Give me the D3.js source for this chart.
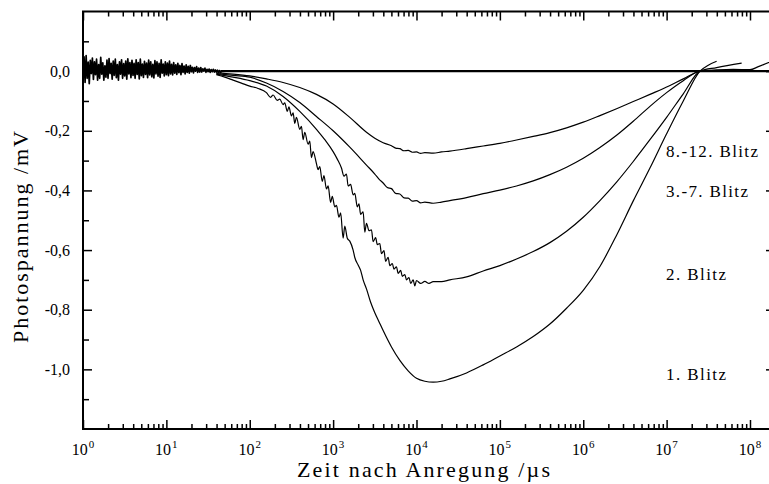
<!DOCTYPE html>
<html><head><meta charset="utf-8">
<script src="https://cdn.jsdelivr.net/npm/d3@7"></script>
<style>body{margin:0;background:#fff}svg{display:block}</style>
</head><body>
<svg id="c" width="769" height="484"></svg>
<script>
// ---- data (time as log10 of µs, photovoltage in mV) ----
const xMajorExp = [0,1,2,3,4,5,6,7,8];
const xTickBase = "10";
const xTickSup = ["0","1","2","3","4","5","6","7","8"];
const yMajor = [0,-0.2,-0.4,-0.6,-0.8,-1.0];
const yTickLabels = ["0,0","-0,2","-0,4","-0,6","-0,8","-1,0"];
const yMinor = [0.1,-0.1,-0.3,-0.5,-0.7,-0.9,-1.1];
const seriesNames = ["1. Blitz","2. Blitz","3.-7. Blitz","8.-12. Blitz"];

// early, overlapping noisy part of all traces (log10 t from 0, step 0.0125)
const earlyStart = 0, earlyStep = 0.0125;
const earlyV = [
 0.010,0.048,-0.038,0.052,-0.024,0.030,-0.042,0.036,-0.008,0.044,
 -0.028,0.031,-0.012,0.040,-0.030,0.022,-0.024,0.046,-0.010,0.028,
 -0.030,0.018,-0.020,0.037,-0.024,0.042,-0.008,0.026,-0.027,0.034,
 -0.014,0.040,-0.022,0.022,-0.030,0.031,-0.010,0.038,-0.024,0.025,
 -0.016,0.034,-0.027,0.041,-0.009,0.029,-0.022,0.036,-0.014,0.026,
 -0.024,0.038,-0.011,0.029,-0.026,0.040,-0.015,0.024,-0.021,0.033,
 -0.011,0.027,-0.022,0.037,-0.013,0.031,-0.019,0.023,-0.023,0.035,
 -0.009,0.031,-0.017,0.026,-0.021,0.038,-0.007,0.024,-0.016,0.031,
 -0.012,0.027,-0.015,0.034,-0.009,0.023,-0.013,0.029,-0.007,0.021,
 -0.011,0.026,-0.005,0.019,-0.012,0.025,-0.004,0.017,-0.009,0.021,
 -0.004,0.016,-0.007,0.019,-0.002,0.013,-0.006,0.012,0.000,0.015,
 -0.004,0.010,-0.003,0.012,-0.003,0.008,0.000,0.010,-0.004,0.006,
 -0.002,0.007,-0.004,0.005,-0.002,0.006,-0.003,0.004,-0.003,0.003,
 -0.004,0.002,-0.005,0.001
];

const blitz1 = [[1.6,-0.012],[1.7,-0.02],[1.8,-0.03],[1.9,-0.04],[2.0,-0.05],[2.1,-0.058],[2.2,-0.072],[2.25,-0.088],[2.28,-0.080],[2.33,-0.098],[2.36,-0.094],[2.40,-0.112],[2.42,-0.106],[2.45,-0.135],[2.47,-0.120],[2.50,-0.150],[2.52,-0.140],[2.54,-0.175],[2.56,-0.155],[2.60,-0.195],[2.62,-0.185],[2.64,-0.230],[2.66,-0.205],[2.70,-0.245],[2.72,-0.235],[2.74,-0.290],[2.76,-0.270],[2.80,-0.310],[2.82,-0.330],[2.84,-0.320],[2.87,-0.370],[2.89,-0.350],[2.92,-0.395],[2.94,-0.385],[2.97,-0.440],[2.99,-0.420],[3.02,-0.455],[3.04,-0.450],[3.07,-0.490],[3.09,-0.475],[3.12,-0.560],[3.14,-0.520],[3.17,-0.560],[3.20,-0.570],[3.24,-0.600],[3.26,-0.625],[3.30,-0.650],[3.33,-0.668],[3.36,-0.700],[3.40,-0.730],[3.45,-0.775],[3.50,-0.810],[3.55,-0.840],[3.60,-0.870],[3.70,-0.925],[3.80,-0.970],[3.90,-1.005],[4.00,-1.030],[4.10,-1.040],[4.20,-1.043],[4.30,-1.040],[4.40,-1.032],[4.60,-1.012],[4.80,-0.985],[5.00,-0.955],[5.20,-0.925],[5.40,-0.890],[5.60,-0.848],[5.80,-0.795],[6.00,-0.735],[6.20,-0.655],[6.40,-0.550],[6.60,-0.435],[6.80,-0.325],[7.00,-0.210],[7.20,-0.100],[7.40,0.0],[7.50,0.020],[7.60,0.033]];

const blitz2 = [[1.6,-0.010],[1.8,-0.020],[2.0,-0.032],[2.2,-0.050],[2.4,-0.085],[2.6,-0.135],[2.8,-0.195],[2.9,-0.230],[3.0,-0.270],[3.05,-0.295],[3.10,-0.325],[3.13,-0.352],[3.16,-0.345],[3.18,-0.385],[3.21,-0.380],[3.24,-0.415],[3.26,-0.410],[3.29,-0.455],[3.31,-0.445],[3.33,-0.480],[3.36,-0.472],[3.38,-0.540],[3.40,-0.510],[3.43,-0.535],[3.46,-0.532],[3.48,-0.572],[3.51,-0.558],[3.53,-0.582],[3.56,-0.578],[3.58,-0.612],[3.61,-0.602],[3.63,-0.638],[3.66,-0.624],[3.68,-0.652],[3.71,-0.645],[3.73,-0.664],[3.76,-0.656],[3.78,-0.678],[3.81,-0.668],[3.83,-0.688],[3.86,-0.682],[3.88,-0.700],[3.91,-0.692],[3.93,-0.712],[3.96,-0.700],[3.98,-0.720],[4.00,-0.702],[4.05,-0.712],[4.10,-0.705],[4.15,-0.712],[4.20,-0.706],[4.30,-0.706],[4.40,-0.700],[4.60,-0.690],[4.80,-0.670],[5.00,-0.652],[5.20,-0.630],[5.40,-0.605],[5.60,-0.575],[5.80,-0.537],[6.00,-0.490],[6.20,-0.434],[6.40,-0.372],[6.60,-0.303],[6.80,-0.230],[7.00,-0.155],[7.20,-0.076],[7.40,0.0],[7.60,0.012],[7.90,0.027]];

const blitz3 = [[1.6,-0.008],[1.8,-0.014],[2.0,-0.020],[2.2,-0.040],[2.4,-0.068],[2.6,-0.105],[2.8,-0.152],[3.0,-0.200],[3.2,-0.255],[3.4,-0.315],[3.5,-0.345],[3.55,-0.362],[3.6,-0.375],[3.65,-0.390],[3.7,-0.394],[3.75,-0.410],[3.8,-0.412],[3.85,-0.425],[3.9,-0.426],[3.95,-0.436],[4.0,-0.434],[4.05,-0.442],[4.1,-0.439],[4.2,-0.443],[4.3,-0.439],[4.4,-0.434],[4.6,-0.424],[4.8,-0.411],[5.0,-0.399],[5.2,-0.385],[5.4,-0.368],[5.6,-0.347],[5.8,-0.322],[6.0,-0.292],[6.2,-0.256],[6.4,-0.215],[6.6,-0.168],[6.8,-0.118],[7.0,-0.072],[7.2,-0.032],[7.4,0.0],[7.6,0.004],[7.8,0.006],[8.0,0.005],[8.1,0.015],[8.3,0.038]];

const blitz4 = [[1.6,-0.006],[1.8,-0.010],[2.0,-0.016],[2.2,-0.026],[2.4,-0.038],[2.6,-0.055],[2.8,-0.078],[3.0,-0.110],[3.2,-0.155],[3.4,-0.205],[3.5,-0.225],[3.6,-0.240],[3.7,-0.250],[3.75,-0.258],[3.8,-0.260],[3.85,-0.267],[3.9,-0.266],[3.95,-0.272],[4.0,-0.271],[4.05,-0.276],[4.1,-0.273],[4.2,-0.275],[4.3,-0.271],[4.4,-0.268],[4.6,-0.260],[4.8,-0.251],[5.0,-0.242],[5.2,-0.231],[5.4,-0.219],[5.6,-0.206],[5.8,-0.190],[6.0,-0.171],[6.2,-0.149],[6.4,-0.126],[6.6,-0.102],[6.8,-0.078],[7.0,-0.053],[7.2,-0.026],[7.4,0.0],[7.5,0.003]];

const zeroLine = [[1.65,0],[8.3,0]];

// ---- drawing ----
const mLeft = 83, mRight = 775, mTop = 11.5, mBottom = 429;
const x = d3.scaleLog().domain([1, Math.pow(10, 8.3)]).range([mLeft, mRight]);
const y = d3.scaleLinear().domain([-1.2, 0.2]).range([mBottom, mTop]);
const svg = d3.select("#c");
const FONT = "'Liberation Serif','Times New Roman',serif";

svg.append("defs").append("clipPath").attr("id","clip")
  .append("rect").attr("x",mLeft).attr("y",mTop).attr("width",mRight-mLeft).attr("height",mBottom-mTop);

const line = d3.line().x(d => x(Math.pow(10, d[0]))).y(d => y(d[1]));
const smooth = d3.line().curve(d3.curveMonotoneX).x(d => x(Math.pow(10, d[0]))).y(d => y(d[1]));
const plot = svg.append("g").attr("clip-path","url(#clip)");

const early = earlyV.map((v,i) => [earlyStart + i*earlyStep, v]);
plot.append("path").datum(early).attr("d", line)
  .attr("fill","none").attr("stroke","#000").attr("stroke-width",1.7).attr("stroke-linejoin","round");

plot.append("path").datum(zeroLine).attr("d", line)
  .attr("fill","none").attr("stroke","#000").attr("stroke-width",2.2);

[blitz1, blitz2, blitz3, blitz4].forEach(s => {
  plot.append("path").datum(s).attr("d", smooth)
    .attr("fill","none").attr("stroke","#000").attr("stroke-width",1.2).attr("stroke-linejoin","round");
});

// axes ticks
const xMajorVals = xMajorExp.map(e => Math.pow(10, e));
const xMinorVals = [];
xMajorExp.forEach(e => { for (let m = 2; m <= 9; m++) { const v = m*Math.pow(10,e); if (v <= x.domain()[1]) xMinorVals.push(v); } });

function styleAxis(g){ g.select(".domain").remove(); g.selectAll("line").attr("stroke","#000").attr("stroke-width",1.5); g.selectAll("text").remove(); }

svg.append("g").attr("transform",`translate(0,${mBottom})`).call(d3.axisBottom(x).tickValues(xMajorVals).tickSize(-9).tickFormat("")).call(styleAxis);
svg.append("g").attr("transform",`translate(0,${mBottom})`).call(d3.axisBottom(x).tickValues(xMinorVals).tickSize(-5).tickFormat("")).call(styleAxis);
svg.append("g").attr("transform",`translate(0,${mTop})`).call(d3.axisTop(x).tickValues(xMajorVals).tickSize(-9).tickFormat("")).call(styleAxis);
svg.append("g").attr("transform",`translate(0,${mTop})`).call(d3.axisTop(x).tickValues(xMinorVals).tickSize(-5).tickFormat("")).call(styleAxis);
svg.append("g").attr("transform",`translate(${mLeft},0)`).call(d3.axisLeft(y).tickValues(yMajor).tickSize(-9).tickFormat("")).call(styleAxis);
svg.append("g").attr("transform",`translate(${mLeft},0)`).call(d3.axisLeft(y).tickValues(yMinor).tickSize(-6).tickFormat("")).call(styleAxis);
svg.append("g").attr("transform",`translate(${mRight},0)`).call(d3.axisRight(y).tickValues(yMajor).tickSize(-9).tickFormat("")).call(styleAxis);
svg.append("g").attr("transform",`translate(${mRight},0)`).call(d3.axisRight(y).tickValues(yMinor).tickSize(-6).tickFormat("")).call(styleAxis);

// frame
svg.append("rect").attr("x",mLeft).attr("y",mTop).attr("width",mRight-mLeft).attr("height",mBottom-mTop)
  .attr("fill","none").attr("stroke","#000").attr("stroke-width",2);

// x tick labels
xMajorExp.forEach((e,i) => {
  const t = svg.append("text").attr("x", x(Math.pow(10,e))).attr("y", 455)
    .attr("text-anchor","middle").attr("font-family",FONT).attr("font-size",16).attr("fill","#000");
  t.append("tspan").text(xTickBase);
  t.append("tspan").attr("dy",-7).attr("dx",1).attr("font-size",11).text(xTickSup[i]);
});

// y tick labels
yMajor.forEach((v,i) => {
  svg.append("text").attr("x",70).attr("y", y(v)).attr("dy","0.35em")
    .attr("text-anchor","end").attr("font-family",FONT).attr("font-size",16).attr("fill","#000")
    .text(yTickLabels[i]);
});

// axis titles
svg.append("text").attr("x",423.5).attr("y",477).attr("text-anchor","middle")
  .attr("font-family",FONT).attr("font-size",22).attr("fill","#000")
  .attr("textLength",253).attr("lengthAdjust","spacing")
  .text("Zeit nach Anregung /µs");
svg.append("text").attr("transform","translate(28,237) rotate(-90)").attr("text-anchor","middle")
  .attr("font-family",FONT).attr("font-size",22).attr("fill","#000")
  .attr("textLength",212).attr("lengthAdjust","spacing")
  .text("Photospannung /mV");

// series labels
const labelPos = [[666,380,60],[666,280,60],[666,197,82],[666,157,92]];
seriesNames.forEach((n,i) => {
  svg.append("text").attr("x",labelPos[i][0]).attr("y",labelPos[i][1])
    .attr("font-family",FONT).attr("font-size",17).attr("fill","#000")
    .attr("textLength",labelPos[i][2]).attr("lengthAdjust","spacing")
    .text(n);
});
</script>
</body></html>
